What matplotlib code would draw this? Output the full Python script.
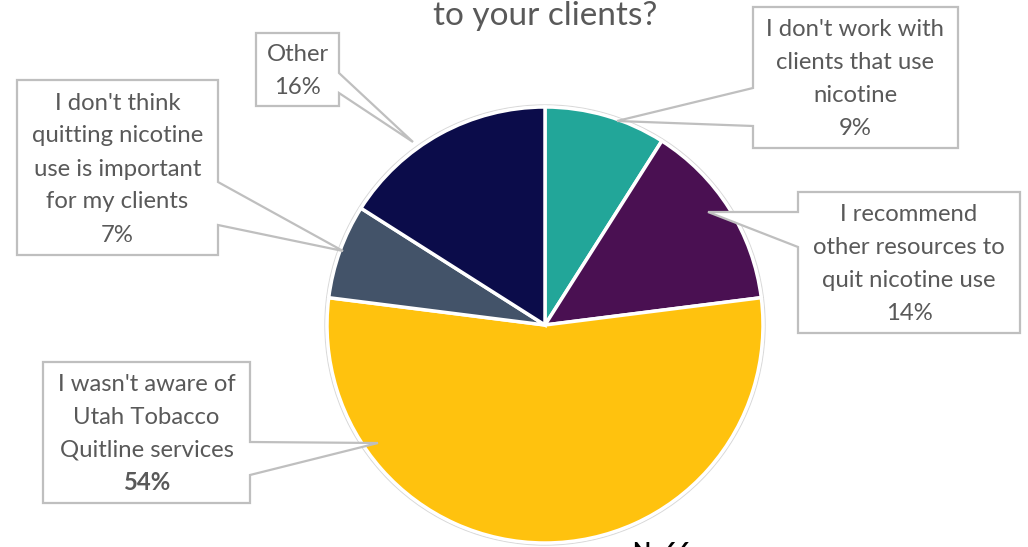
import numpy as np
import matplotlib.pyplot as plt
from matplotlib.patches import Polygon, Circle

# survey answers, clockwise from 12 o'clock
answers = ["I don't work with\nclients that use\nnicotine",
           "I recommend\nother resources to\nquit nicotine use",
           "I wasn't aware of\nUtah Tobacco\nQuitline services",
           "I don't think\nquitting nicotine\nuse is important\nfor my clients",
           "Other"]
shares = [9, 14, 54, 7, 16]
colors = ['#22A699', '#4A1052', '#FFC20E', '#435369', '#0B0C4A']

W, H = 1028, 547
CX, CY, R = 545, 325, 218  # pie centre / radius in pixel coords (y down)

# callout layout: box (x0, y0, x1, y1), side of pointer, pointer base span, tip
boxes = [(753, 7, 958, 148), (798, 192, 1020, 333), (43, 362, 250, 503),
         (17, 80, 218, 255), (256, 33, 339, 106)]
sides = ['left', 'left', 'right', 'right', 'right']
bases = [(88, 126), (212, 247), (442, 475), (182, 225), (73, 93)]
tips = [(617, 121), (708, 212), (378, 443), (343, 251), (413, 142)]


def Y(y):
    return H - y


def callout(ax, box, side, base, tip):
    x0, y0, x1, y1 = box
    b0, b1 = base
    if side == 'left':
        pts = [(x0, y0), (x1, y0), (x1, y1), (x0, y1), (x0, b1), tip, (x0, b0)]
    else:
        pts = [(x0, y0), (x1, y0), (x1, b0), tip, (x1, b1), (x1, y1), (x0, y1)]
    pts = [(px, Y(py)) for px, py in pts]
    ax.add_patch(Polygon(pts, closed=True, facecolor='white',
                         edgecolor='#BFBFBF', linewidth=1.6, zorder=5))


fig = plt.figure(figsize=(W / 100, H / 100), dpi=100)
ax = fig.add_axes([0, 0, 1, 1])

ax.add_patch(Circle((CX, Y(CY)), R + 2, facecolor='none',
                    edgecolor='#D9D9D9', linewidth=1, zorder=1))
ax.pie(shares, colors=colors, startangle=90, counterclock=False,
       center=(CX, Y(CY)), radius=R,
       wedgeprops=dict(edgecolor='white', linewidth=2.5))

font = 'Lato'
grey = '#595959'
for name, val, box, side, base, tip in zip(answers, shares, boxes, sides, bases, tips):
    callout(ax, box, side, base, tip)
    lines = name.split('\n') + ['%d%%' % val]
    n = len(lines)
    cx = (box[0] + box[2]) / 2
    cy = (box[1] + box[3]) / 2
    for k, line in enumerate(lines):
        yb = cy + (k - (n - 1) / 2) * 33 + 8
        bold = (k == n - 1 and val == max(shares))
        ax.text(cx, Y(yb), line, ha='center', va='baseline', fontsize=17.2,
                family=font, color=grey, zorder=6,
                fontweight='bold' if bold else 'normal')

# title (upper line sits above the visible area)
ax.text(545, Y(25), 'to your clients?', ha='center', va='baseline',
        fontsize=24, family=font, color=grey)
ax.text(632, Y(541), 'N=66', ha='left', va='top', fontsize=17,
        family=font, fontweight='bold', color='black')

ax.set_xlim(0, W)
ax.set_ylim(0, H)
ax.set_aspect('equal')
ax.axis('off')
fig.savefig('out.png', dpi=100)
